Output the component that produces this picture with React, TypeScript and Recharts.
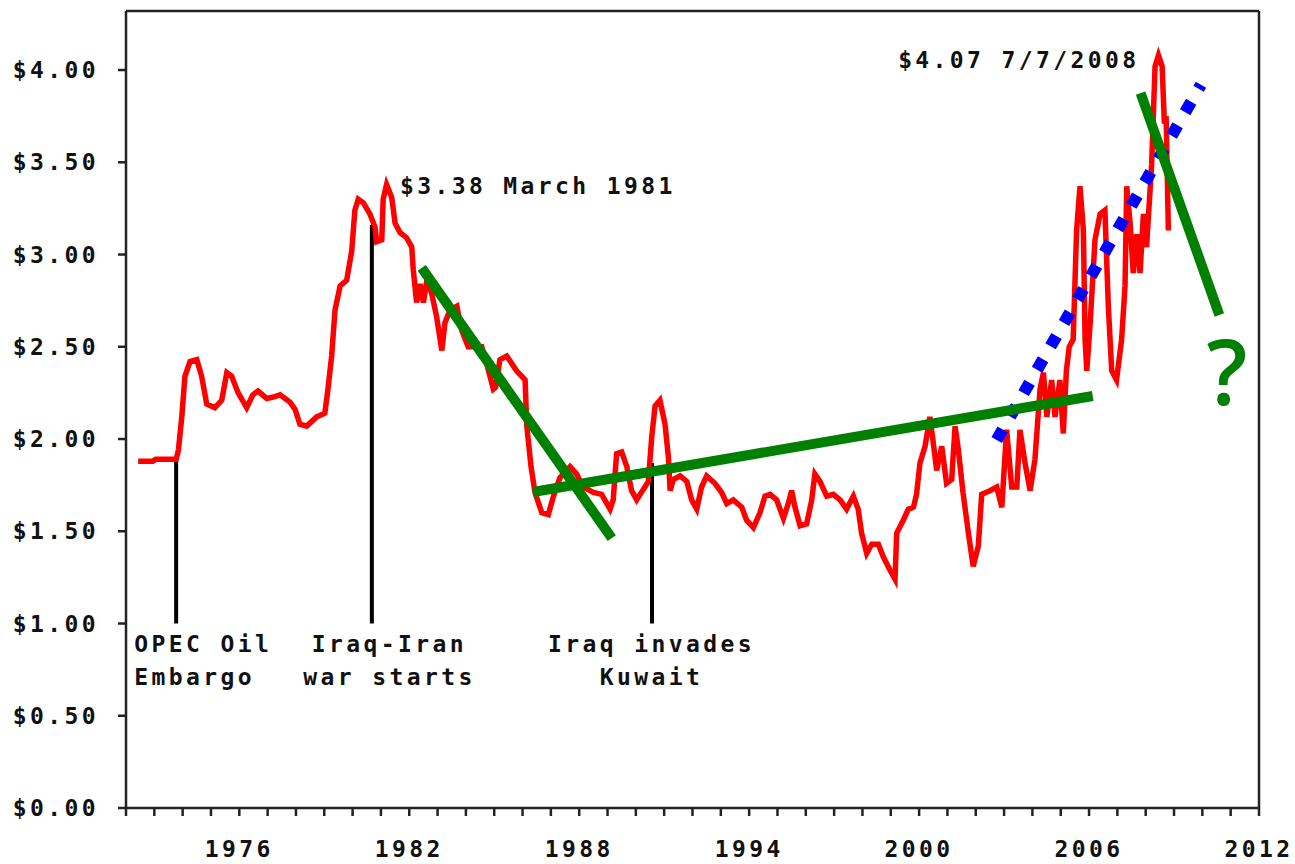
import React from "react";
import {
  ComposedChart,
  Line,
  XAxis,
  YAxis,
  ReferenceLine,
  ReferenceDot,
} from "recharts";

// monthly-ish readings of the gas price curve (decimal year, $ per gallon)
const years = [
  1972.43, 1972.95, 1973.05, 1973.77, 1973.85, 1973.97, 1974.08, 1974.26, 1974.5, 1974.67,
  1974.85, 1975.14, 1975.38, 1975.56, 1975.73, 1975.96, 1976.26, 1976.48, 1976.66, 1976.97,
  1977.26, 1977.44, 1977.79, 1977.97, 1978.14, 1978.38, 1978.73, 1979.02, 1979.13, 1979.26,
  1979.38, 1979.56, 1979.79, 1979.97, 1980.08, 1980.2, 1980.38, 1980.61, 1980.79, 1980.85,
  1981.03, 1981.08, 1981.2, 1981.38, 1981.5, 1981.67, 1981.91, 1982.09, 1982.14, 1982.26,
  1982.38, 1982.5, 1982.62, 1982.79, 1982.97, 1983.15, 1983.26, 1983.44, 1983.68, 1983.85,
  1984.08, 1984.32, 1984.56, 1984.73, 1984.97, 1985.05, 1985.2, 1985.44, 1985.79, 1986.09,
  1986.15, 1986.3, 1986.44, 1986.68, 1986.91, 1987.09, 1987.32, 1987.68, 1987.91, 1988.14,
  1988.5, 1988.79, 1989.09, 1989.2, 1989.32, 1989.5, 1989.68, 1989.85, 1990.03, 1990.15,
  1990.32, 1990.44, 1990.56, 1990.68, 1990.85, 1991.03, 1991.15, 1991.21, 1991.32, 1991.56,
  1991.8, 1991.97, 1992.15, 1992.32, 1992.5, 1992.79, 1993.03, 1993.21, 1993.44, 1993.74,
  1993.91, 1994.15, 1994.38, 1994.56, 1994.74, 1994.97, 1995.21, 1995.38, 1995.5, 1995.62,
  1995.8, 1996.03, 1996.21, 1996.32, 1996.5, 1996.74, 1996.97, 1997.21, 1997.44, 1997.68,
  1997.85, 1997.97, 1998.15, 1998.33, 1998.56, 1998.74, 1998.97, 1999.15, 1999.21, 1999.44,
  1999.62, 1999.8, 1999.91, 2000.03, 2000.21, 2000.38, 2000.5, 2000.62, 2000.8, 2000.97,
  2001.15, 2001.27, 2001.38, 2001.55, 2001.74, 2001.91, 2002.09, 2002.21, 2002.5, 2002.74,
  2002.92, 2003.09, 2003.27, 2003.45, 2003.56, 2003.74, 2003.92, 2004.09, 2004.27, 2004.39,
  2004.51, 2004.68, 2004.8, 2004.97, 2005.09, 2005.2, 2005.3, 2005.44, 2005.56, 2005.68,
  2005.8, 2005.86, 2005.92, 2006.04, 2006.21, 2006.39, 2006.56, 2006.68, 2006.8, 2006.97,
  2007.15, 2007.27, 2007.33, 2007.45, 2007.56, 2007.68, 2007.8, 2007.92, 2008.03, 2008.21,
  2008.33, 2008.45, 2008.58, 2008.66, 2008.72, 2008.8,
];

const prices = [
  1.88, 1.88, 1.89, 1.89, 1.94, 2.12, 2.34, 2.42, 2.43, 2.34,
  2.19, 2.17, 2.21, 2.36, 2.34, 2.25, 2.17, 2.24, 2.26, 2.22,
  2.23, 2.24, 2.2, 2.16, 2.08, 2.07, 2.12, 2.14, 2.27, 2.45,
  2.7, 2.83, 2.86, 3.02, 3.24, 3.3, 3.28, 3.22, 3.15, 3.07,
  3.08, 3.3, 3.38, 3.31, 3.17, 3.12, 3.09, 3.04, 2.92, 2.74,
  2.84, 2.74, 2.86, 2.79, 2.66, 2.48, 2.63, 2.7, 2.72, 2.59,
  2.5, 2.5, 2.5, 2.41, 2.27, 2.28, 2.43, 2.45, 2.37, 2.32,
  2.07, 1.85, 1.71, 1.6, 1.59, 1.69, 1.79, 1.85, 1.81, 1.74,
  1.71, 1.7, 1.62, 1.67, 1.92, 1.93, 1.85, 1.72, 1.67, 1.7,
  1.74, 1.77, 2.01, 2.18, 2.21, 2.08, 1.9, 1.72, 1.78, 1.8,
  1.77, 1.67, 1.62, 1.74, 1.8, 1.76, 1.71, 1.65, 1.67, 1.63,
  1.56, 1.52, 1.6, 1.69, 1.7, 1.67, 1.57, 1.65, 1.72, 1.63,
  1.53, 1.54, 1.67, 1.81, 1.77, 1.69, 1.7, 1.67, 1.62, 1.69,
  1.62, 1.49, 1.38, 1.43, 1.43, 1.36, 1.29, 1.24, 1.49, 1.56,
  1.62, 1.63, 1.7, 1.87, 1.96, 2.12, 1.98, 1.83, 1.96, 1.76,
  1.78, 2.07, 1.95, 1.71, 1.49, 1.31, 1.42, 1.7, 1.72, 1.74,
  1.63, 2.05, 1.74, 1.74, 2.05, 1.87, 1.72, 1.89, 2.27, 2.36,
  2.12, 2.32, 2.12, 2.32, 2.03, 2.37, 2.5, 2.54, 3.13, 3.37,
  3.13, 2.54, 2.37, 2.63, 3.08, 3.22, 3.24, 2.72, 2.37, 2.32,
  2.54, 2.83, 3.37, 3.17, 2.9, 3.11, 2.9, 3.22, 3.04, 3.49,
  4.02, 4.08, 4.02, 3.71, 3.75, 3.13,
];

const yearTicks = [
  1972, 1973, 1974, 1975, 1976, 1977, 1978, 1979, 1980, 1981, 1982, 1983, 1984, 1985,
  1986, 1987, 1988, 1989, 1990, 1991, 1992, 1993, 1994, 1995, 1996, 1997, 1998, 1999,
  2000, 2001, 2002, 2003, 2004, 2005, 2006, 2007, 2008, 2009, 2010, 2011, 2012,
];
const labeledYears = [1976, 1982, 1988, 1994, 2000, 2006, 2012];
const priceTicks = [0, 0.5, 1, 1.5, 2, 2.5, 3, 3.5, 4];

// events: vertical markers from $1.00 up to the curve
const eventYears = [1973.77, 1980.68, 1990.57];
const eventTops = [1.9, 3.16, 1.87];
const eventLabels = [
  ["OPEC Oil", "Embargo"],
  ["Iraq-Iran", "war starts"],
  ["Iraq invades", "Kuwait"],
];
const eventLabelYears = [1972.29, 1981.3, 1990.55];
const eventLabelAnchors = ["start", "middle", "middle"];

// hand-drawn trend strokes [x1, y1, x2, y2]
const greenTrends = [
  [1982.44, 2.927, 1989.15, 1.463],
  [1986.37, 1.713, 2006.13, 2.233],
  [2007.82, 3.875, 2010.6, 2.672],
];
const blueTrend = [2002.74, 1.995, 2009.95, 3.92];

const data = years.map((year, i) => ({ year, price: prices[i] }));

const mono = {
  fontFamily: "'DejaVu Sans Mono', monospace",
  fontWeight: 700,
  fontSize: 23,
  letterSpacing: 3.4,
  fill: "#111",
};

const axisStroke = { stroke: "#222", strokeWidth: 2.5 };

function textLabel(lines: string[], anchor: string, style: any = mono, lineGap = 33) {
  return (props: any) => {
    const vb = props.viewBox || {};
    const x = vb.x + (vb.width || 0) / 2;
    const y = vb.y + (vb.height || 0) / 2;
    return (
      <text x={x} y={y} textAnchor={anchor} style={style}>
        {lines.map((line, i) => (
          <tspan key={i} x={x} dy={i === 0 ? 0 : lineGap}>
            {line}
          </tspan>
        ))}
      </text>
    );
  };
}

export default function App() {
  return (
    <div style={{ position: "absolute", left: 0, top: 0, background: "#fff" }}>
      <ComposedChart
        width={1295}
        height={864}
        data={data}
        margin={{ top: 10, right: 0, bottom: 0, left: 0 }}
      >
        <XAxis
          xAxisId="top"
          orientation="top"
          type="number"
          dataKey="year"
          domain={[1972, 2012]}
          tick={false}
          tickLine={false}
          axisLine={axisStroke}
          height={1}
        />
        <XAxis
          type="number"
          dataKey="year"
          domain={[1972, 2012]}
          ticks={yearTicks}
          interval={0}
          tickFormatter={(v) => (labeledYears.includes(v) ? String(v) : "")}
          tickSize={8}
          tickMargin={25}
          axisLine={axisStroke}
          tickLine={axisStroke}
          tick={mono}
          height={56}
        />
        <YAxis
          type="number"
          domain={[0, 4.32]}
          ticks={priceTicks}
          interval={0}
          tickFormatter={(v) => "$" + v.toFixed(2)}
          tickSize={8}
          tickMargin={19}
          axisLine={axisStroke}
          tickLine={axisStroke}
          tick={mono}
          width={126}
        />
        <YAxis
          yAxisId="right"
          orientation="right"
          type="number"
          domain={[0, 4.32]}
          ticks={priceTicks}
          interval={0}
          tickFormatter={() => ""}
          tickSize={8}
          axisLine={axisStroke}
          tickLine={axisStroke}
          width={36}
        />

        {eventYears.map((yr, i) => (
          <ReferenceLine
            key={"ev" + i}
            segment={[
              { x: yr, y: 1.0 },
              { x: yr, y: eventTops[i] },
            ]}
            stroke="#000"
            strokeWidth={4}
          />
        ))}

        <Line
          type="linear"
          dataKey="price"
          stroke="#ff0000"
          strokeWidth={5.5}
          dot={false}
          isAnimationActive={false}
        />

        <ReferenceLine
          segment={[
            { x: blueTrend[0], y: blueTrend[1] },
            { x: blueTrend[2], y: blueTrend[3] },
          ]}
          stroke="#0000ff"
          strokeWidth={12}
          strokeDasharray="12 15"
        />
        {greenTrends.map((t, i) => (
          <ReferenceLine
            key={"g" + i}
            segment={[
              { x: t[0], y: t[1] },
              { x: t[2], y: t[3] },
            ]}
            stroke="#008000"
            strokeWidth={10}
          />
        ))}

        {eventLabels.map((lines, i) => (
          <ReferenceDot
            key={"lab" + i}
            x={eventLabelYears[i]}
            y={0.846}
            r={1}
            fill="none"
            stroke="none"
            label={textLabel(lines, eventLabelAnchors[i])}
          />
        ))}
        <ReferenceDot
          x={1981.67}
          y={3.328}
          r={1}
          fill="none"
          stroke="none"
          label={textLabel(["$3.38 March 1981"], "start")}
        />
        <ReferenceDot
          x={1999.26}
          y={4.011}
          r={1}
          fill="none"
          stroke="none"
          label={textLabel(["$4.07 7/7/2008"], "start")}
        />
        <ReferenceDot
          x={2010.87}
          y={2.184}
          r={1}
          fill="none"
          stroke="none"
          label={textLabel(["?"], "middle", {
            fontFamily: "'Open Sans', sans-serif",
            fontWeight: 600,
            fontSize: 90,
            fill: "#008000",
          })}
        />
      </ComposedChart>
    </div>
  );
}
